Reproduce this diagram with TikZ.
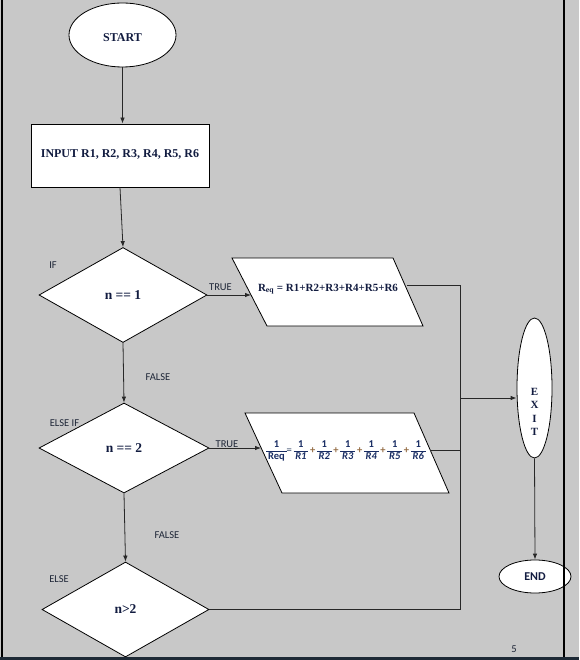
\documentclass[tikz,border=0pt]{standalone}
\usepackage{fontspec}
\setmainfont{Liberation Serif}
\newfontfamily\carl{Carlito}
\usepackage{amsmath}
\usetikzlibrary{shapes.geometric,arrows.meta,calc}
\definecolor{bg}{RGB}{200,200,200}
\definecolor{ink}{RGB}{18,28,64}
\definecolor{lab}{RGB}{30,38,55}
\definecolor{eqblue}{RGB}{25,45,100}
\definecolor{plusc}{RGB}{150,110,70}
\definecolor{eqc}{RGB}{100,115,140}
\definecolor{band}{RGB}{30,42,54}
\definecolor{conn}{RGB}{40,40,40}
\newcommand\fr[2]{\begin{tabular}[c]{@{\,}c@{\,}}#1\\\hline #2\end{tabular}}
\newcommand\pl{\,\textcolor{plusc}{+}\,}
\tikzset{
  shp/.style={draw=black, fill=white, line width=0.8pt},
  boldtxt/.style={font=\fontsize{12}{14}\selectfont\bfseries, text=ink},
  dtxt/.style={font=\fontsize{13.5}{15}\selectfont\bfseries, text=ink},
  lbl/.style={font=\carl\fontsize{10.5}{12}\selectfont, text=lab, inner sep=0pt},
  conn/.style={draw=conn, line width=0.8pt},
  arr/.style={conn, -{Latex[length=6pt,width=4.5pt]}},
}
\begin{document}
\begin{tikzpicture}[x=1pt,y=-1pt]
\fill[bg] (0,0) rectangle (579,660);
\useasboundingbox (0,0) rectangle (579,660);

% shapes
\node[shp, ellipse, minimum width=107pt, minimum height=64pt, inner sep=0pt, boldtxt, text height=13pt, text depth=0pt] (start) at (122.5,35) {START};
\node[shp, rectangle, minimum width=178pt, minimum height=63pt, inner sep=0pt, boldtxt, text depth=3pt] (input) at (120,155.5) {INPUT R1, R2, R3, R4, R5, R6};
\node[shp, diamond, minimum width=168pt, minimum height=95pt, inner sep=0pt, dtxt] (d1) at (123,295) {n == 1};
\node[shp, diamond, minimum width=170pt, minimum height=90pt, inner sep=0pt, dtxt] (d2) at (124,448) {n == 2};
\node[shp, diamond, minimum width=167pt, minimum height=95pt, inner sep=0pt, dtxt] (d3) at (125.5,609.5) {n>2};

% parallelograms
\draw[shp] (232,258) -- (393,258) -- (423,326) -- (267,326) -- cycle;
\node[font=\fontsize{11}{13}\selectfont\bfseries, text=ink] (eq1) at (328,289) {R\textsubscript{eq} = R1+R2+R3+R4+R5+R6};
\coordinate (p1in) at (251,295);
\coordinate (p1out) at (407,285);

\draw[shp] (245,413) -- (414,413) -- (449,493) -- (282,493) -- cycle;
\node[font=\carl\bfseries\fontsize{10.5}{11.5}\selectfont, text=eqblue, inner sep=0pt] (eq2) at (346,451)
  {\fr{1}{Req}\textcolor{eqc}{=}\,\fr{1}{\textit{R1}}\pl\fr{1}{\textit{R2}}\pl\fr{1}{\textit{R3}}\pl\fr{1}{\textit{R4}}\pl\fr{1}{\textit{R5}}\pl\fr{1}{\textit{R6}}};
\coordinate (p2in) at (261,448);
\coordinate (p2out) at (430,450);

% exit / end
\node[shp, ellipse, minimum width=35pt, minimum height=140pt, inner sep=0pt] (exit) at (534.5,388) {};
\node[font=\fontsize{11}{13.4}\selectfont\bfseries, text=ink, align=center, inner sep=0pt] (exittxt) at (534.5,412) {E\\X\\I\\T};
\node[shp, ellipse, minimum width=72pt, minimum height=33pt, inner sep=0pt, font=\carl\bfseries\fontsize{12}{14}\selectfont, text=ink] (end) at (535,576.5) {END};

% connectors
\draw[arr] (start.south) -- (input.north -| start.south);
\draw[arr] (input.south) -- (d1.north);
\draw[arr] (d1.east) -- (p1in);
\draw[arr] (d1.south) -- (d2.north);
\draw[arr] (d2.east) -- (p2in);
\draw[arr] (d2.south) -- (d3.north);
\coordinate (jn) at (460.5,398);
\draw[conn] (p1out) -| (jn);
\draw[conn] (p2out) -- (p2out -| jn);
\draw[conn] (d3.east) -| (jn);
\draw[arr] (jn) -- (jn -| exit.west);
\draw[arr] (exit.south) -- (end.north);

% labels
\node[lbl] (lif) at (53,265) {IF};
\node[lbl] (ltrue1) at (220.5,287.5) {TRUE};
\node[lbl] (lfalse1) at (158,377.5) {FALSE};
\node[lbl] (lelseif) at (64.5,423) {ELSE IF};
\node[lbl] (ltrue2) at (227,444) {TRUE};
\node[lbl] (lfalse2) at (167,535) {FALSE};
\node[lbl] (lelse) at (59,579.5) {ELSE};
\node[lbl] (pg) at (514,649) {5};

% page frame
\draw[black, line width=1.2pt] (2,0) -- (2,657);
\draw[black, line width=1.2pt] (564,0) -- (564,657);
\fill[band] (0,657) rectangle (579,660);
\end{tikzpicture}
\end{document}
